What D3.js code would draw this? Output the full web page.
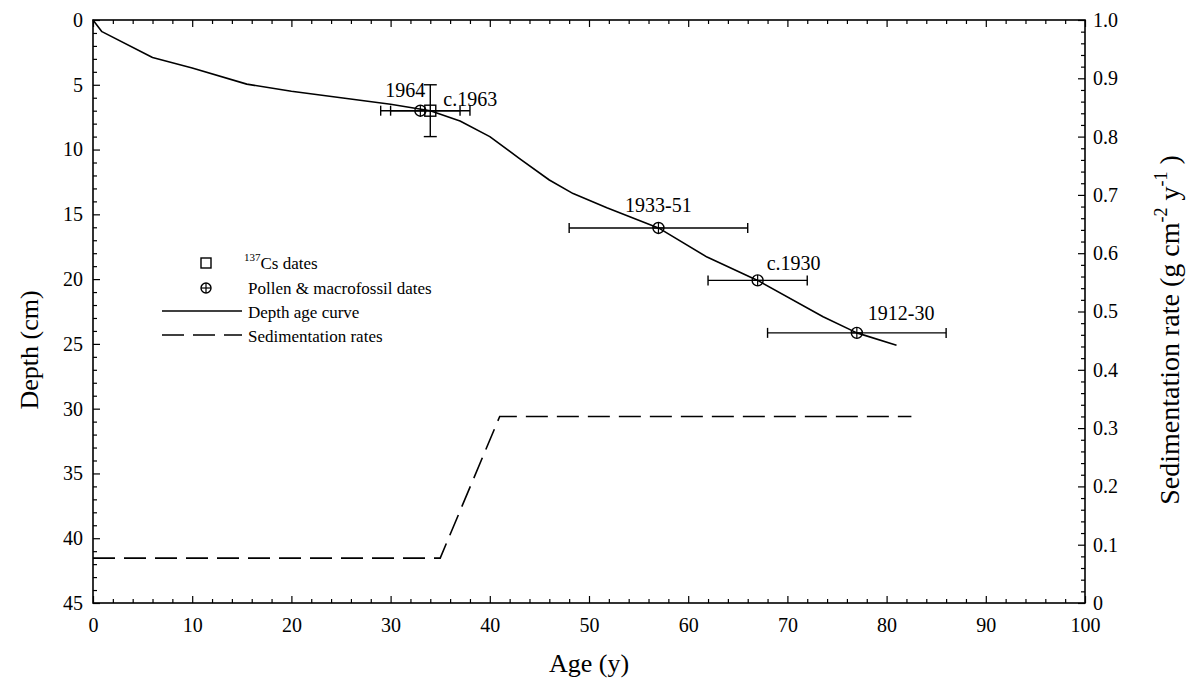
<!DOCTYPE html>
<html>
<head>
<meta charset="utf-8">
<script src="https://cdn.jsdelivr.net/npm/d3@7"></script>
<style>
  body { margin: 0; background: #fff; }
  text { font-family: "Liberation Serif", "Times New Roman", serif; fill: #000; }
</style>
</head>
<body>
<svg id="chart" width="1191" height="690"></svg>
<script>
// ---- Depth–age curve ----
const curveAge   = [0, 0.9, 6, 10, 15.5, 20, 25, 30, 34, 37, 40, 43, 46, 48.4, 51.8, 57, 61.9, 67, 73.6, 77, 81];
const curveDepth = [0, 0.9, 2.9, 3.7, 4.95, 5.5, 6.0, 6.5, 7.0, 7.8, 9.0, 10.7, 12.35, 13.4, 14.5, 16.05, 18.3, 20.1, 22.9, 24.15, 25.1];

// ---- Pollen & macrofossil dates (age, depth, age range) ----
const pollenAge    = [33, 57, 67, 77];
const pollenDepth  = [7.0, 16.05, 20.1, 24.15];
const pollenAgeMin = [29, 48, 62, 68];
const pollenAgeMax = [37, 66, 72, 86];
const pollenLabel  = ["1964", "1933-51", "c.1930", "1912-30"];

// ---- 137Cs date (age, depth, age and depth ranges) ----
const csAge      = [34];
const csDepth    = [7.0];
const csAgeMin   = [30];
const csAgeMax   = [38];
const csDepthMin = [5];
const csDepthMax = [9];
const csLabel    = ["c.1963"];

// ---- Sedimentation rates (right axis) ----
const sedAge  = [0, 35, 41, 82.5];
const sedRate = [0.077, 0.077, 0.32, 0.32];

// ---- Tick values ----
const ageTicks   = [0, 10, 20, 30, 40, 50, 60, 70, 80, 90, 100];
const depthTicks = [0, 5, 10, 15, 20, 25, 30, 35, 40, 45];
const rateTicks  = [0, 0.1, 0.2, 0.3, 0.4, 0.5, 0.6, 0.7, 0.8, 0.9, 1.0];

// label placement relative to each date marker
const pollenLabelPlace = [
  { dx: 5,  dy: -14, anchor: "end" },
  { dx: 0,  dy: -16, anchor: "middle" },
  { dx: 9,  dy: -10, anchor: "start" },
  { dx: 11, dy: -13, anchor: "start" }
];
const csLabelPlace = [{ dx: 13, dy: -5, anchor: "start" }];

const svg = d3.select("#chart");
const margin = { left: 93, right: 106, top: 20, bottom: 87 };
const W = 1191, H = 690;
const iw = W - margin.left - margin.right;
const ih = H - margin.top - margin.bottom;

const x = d3.scaleLinear().domain([0, 100]).range([margin.left, margin.left + iw]);
const y = d3.scaleLinear().domain([0, 45]).range([margin.top, margin.top + ih]);
const yR = d3.scaleLinear().domain([0, 1]).range([margin.top + ih, margin.top]);

const tickFont = "20px";

// ---- Axes ----
function styleAxis(g) {
  g.select(".domain").remove();
  g.attr("font-family", null).attr("font-size", null);
  g.selectAll(".tick line").attr("stroke", "#000").attr("stroke-width", 1.2);
  g.selectAll(".tick text").style("font-size", tickFont);
}

// minor ticks
const minorAge = d3.range(0, 101, 2).filter(d => d % 10 !== 0);
const minorDepth = d3.range(0, 46, 1).filter(d => d % 5 !== 0);
const minorRate = d3.range(0, 51, 1).filter(d => d % 5 !== 0).map(d => d / 50);

// bottom
svg.append("g").attr("transform", `translate(0,${margin.top + ih})`)
  .call(d3.axisBottom(x).tickValues(ageTicks).tickSize(-7).tickPadding(15).tickFormat(d3.format("d")))
  .call(styleAxis);
svg.append("g").attr("transform", `translate(0,${margin.top + ih})`)
  .call(d3.axisBottom(x).tickValues(minorAge).tickSize(-4).tickFormat(""))
  .call(styleAxis);
// top
svg.append("g").attr("transform", `translate(0,${margin.top})`)
  .call(d3.axisTop(x).tickValues(ageTicks).tickSize(-7).tickFormat(""))
  .call(styleAxis);
svg.append("g").attr("transform", `translate(0,${margin.top})`)
  .call(d3.axisTop(x).tickValues(minorAge).tickSize(-4).tickFormat(""))
  .call(styleAxis);
// left
svg.append("g").attr("transform", `translate(${margin.left},0)`)
  .call(d3.axisLeft(y).tickValues(depthTicks).tickSize(-7).tickPadding(10).tickFormat(d3.format("d")))
  .call(styleAxis);
svg.append("g").attr("transform", `translate(${margin.left},0)`)
  .call(d3.axisLeft(y).tickValues(minorDepth).tickSize(-4).tickFormat(""))
  .call(styleAxis);
// right
svg.append("g").attr("transform", `translate(${margin.left + iw},0)`)
  .call(d3.axisRight(yR).tickValues(rateTicks).tickSize(-7).tickPadding(8)
    .tickFormat(d => d === 0 ? "0" : d.toFixed(1)))
  .call(styleAxis);
svg.append("g").attr("transform", `translate(${margin.left + iw},0)`)
  .call(d3.axisRight(yR).tickValues(minorRate).tickSize(-4).tickFormat(""))
  .call(styleAxis);

// frame
svg.append("rect")
  .attr("x", margin.left).attr("y", margin.top)
  .attr("width", iw).attr("height", ih)
  .attr("fill", "none").attr("stroke", "#000").attr("stroke-width", 1.6);

// ---- Axis titles ----
svg.append("text")
  .attr("transform", `translate(38,350) rotate(-90)`)
  .attr("text-anchor", "middle").style("font-size", "26px")
  .text("Depth (cm)");

svg.append("text")
  .attr("x", margin.left + iw / 2).attr("y", 672)
  .attr("text-anchor", "middle").style("font-size", "26px")
  .text("Age (y)");

const rt = svg.append("text")
  .attr("transform", `translate(1179,330) rotate(-90)`)
  .attr("text-anchor", "middle").style("font-size", "28px");
rt.append("tspan").text("Sedimentation rate (g cm");
rt.append("tspan").attr("dy", -12).style("font-size", "18px").text("-2");
rt.append("tspan").attr("dy", 12).text(" y");
rt.append("tspan").attr("dy", -12).style("font-size", "18px").text("-1");
rt.append("tspan").attr("dy", 12).text(" )");

// ---- Sedimentation rate line ----
const sedLine = d3.line().x((d, i) => x(sedAge[i])).y(d => yR(d));
svg.append("path")
  .attr("d", sedLine(sedRate))
  .attr("fill", "none").attr("stroke", "#000")
  .attr("stroke-width", 1.6).attr("stroke-dasharray", "22,9");

// ---- Depth–age curve ----
const curveLine = d3.line().x((d, i) => x(curveAge[i])).y(d => y(d));
svg.append("path")
  .attr("d", curveLine(curveDepth))
  .attr("fill", "none").attr("stroke", "#000").attr("stroke-width", 1.6)
  .attr("stroke-linejoin", "round");

// ---- Error bars ----
const bars = svg.append("g").attr("stroke", "#000").attr("stroke-width", 1.4).attr("fill", "none");
function hBar(a0, a1, d, cap) {
  bars.append("line").attr("x1", x(a0)).attr("x2", x(a1)).attr("y1", y(d)).attr("y2", y(d));
  bars.append("line").attr("x1", x(a0)).attr("x2", x(a0)).attr("y1", y(d) - cap).attr("y2", y(d) + cap);
  bars.append("line").attr("x1", x(a1)).attr("x2", x(a1)).attr("y1", y(d) - cap).attr("y2", y(d) + cap);
}
function vBar(a, d0, d1, cap) {
  bars.append("line").attr("x1", x(a)).attr("x2", x(a)).attr("y1", y(d0)).attr("y2", y(d1));
  bars.append("line").attr("x1", x(a) - cap).attr("x2", x(a) + cap).attr("y1", y(d0)).attr("y2", y(d0));
  bars.append("line").attr("x1", x(a) - cap).attr("x2", x(a) + cap).attr("y1", y(d1)).attr("y2", y(d1));
}
pollenAge.forEach((a, i) => hBar(pollenAgeMin[i], pollenAgeMax[i], pollenDepth[i], 5));
csAge.forEach((a, i) => {
  hBar(csAgeMin[i], csAgeMax[i], csDepth[i], 5);
  vBar(a, csDepthMin[i], csDepthMax[i], 6.5);
});

// ---- Markers ----
function plusCircle(g, cx, cy, r) {
  g.append("circle").attr("cx", cx).attr("cy", cy).attr("r", r)
    .attr("fill", "none").attr("stroke", "#000").attr("stroke-width", 1.4);
  g.append("line").attr("x1", cx - r).attr("x2", cx + r).attr("y1", cy).attr("y2", cy)
    .attr("stroke", "#000").attr("stroke-width", 1.2);
  g.append("line").attr("x1", cx).attr("x2", cx).attr("y1", cy - r).attr("y2", cy + r)
    .attr("stroke", "#000").attr("stroke-width", 1.2);
}
function square(g, cx, cy, s) {
  g.append("rect").attr("x", cx - s / 2).attr("y", cy - s / 2).attr("width", s).attr("height", s)
    .attr("fill", "none").attr("stroke", "#000").attr("stroke-width", 1.4);
}
const marks = svg.append("g");
csAge.forEach((a, i) => square(marks, x(a), y(csDepth[i]), 11));
pollenAge.forEach((a, i) => plusCircle(marks, x(a), y(pollenDepth[i]), 5.5));

// ---- Date labels ----
pollenAge.forEach((a, i) => {
  const p = pollenLabelPlace[i];
  svg.append("text").attr("x", x(a) + p.dx).attr("y", y(pollenDepth[i]) + p.dy)
    .attr("text-anchor", p.anchor).style("font-size", "20px").text(pollenLabel[i]);
});
csAge.forEach((a, i) => {
  const p = csLabelPlace[i];
  svg.append("text").attr("x", x(a) + p.dx).attr("y", y(csDepth[i]) + p.dy)
    .attr("text-anchor", p.anchor).style("font-size", "20px").text(csLabel[i]);
});

// ---- Legend ----
const lg = svg.append("g");
const lgSymX = 206, lgTextX = 248;
const lgRows = [263, 288, 311, 335];
square(lg, lgSymX, lgRows[0], 10);
plusCircle(lg, lgSymX, lgRows[1], 5);
lg.append("line").attr("x1", 162).attr("x2", 242).attr("y1", lgRows[2]).attr("y2", lgRows[2])
  .attr("stroke", "#000").attr("stroke-width", 1.6);
lg.append("line").attr("x1", 162).attr("x2", 242).attr("y1", lgRows[3]).attr("y2", lgRows[3])
  .attr("stroke", "#000").attr("stroke-width", 1.6).attr("stroke-dasharray", "22,9");

const t0 = lg.append("text").attr("x", lgTextX - 4).attr("y", lgRows[0] + 6).style("font-size", "17px");
t0.append("tspan").attr("dy", -8).style("font-size", "11px").text("137");
t0.append("tspan").attr("dy", 8).text("Cs dates");
lg.append("text").attr("x", lgTextX).attr("y", lgRows[1] + 6).style("font-size", "17px").text("Pollen & macrofossil dates");
lg.append("text").attr("x", lgTextX).attr("y", lgRows[2] + 7).style("font-size", "17px").text("Depth age curve");
lg.append("text").attr("x", lgTextX).attr("y", lgRows[3] + 7).style("font-size", "17px").text("Sedimentation rates");
</script>
</body>
</html>
